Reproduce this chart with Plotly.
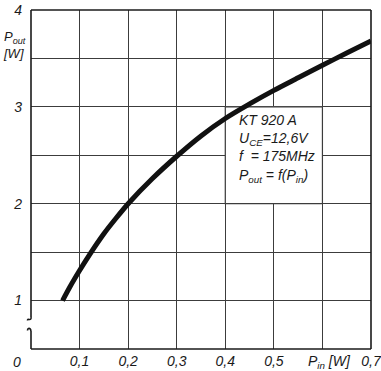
import plotly.graph_objects as go

# Data (Pin in W, Pout in W)
p_in = [0.065, 0.08, 0.10, 0.12, 0.15, 0.175, 0.20, 0.25, 0.30, 0.35, 0.40, 0.45, 0.50, 0.55, 0.60, 0.65, 0.70]
p_out = [1.00, 1.14, 1.31, 1.47, 1.69, 1.85, 2.00, 2.26, 2.49, 2.70, 2.88, 3.03, 3.17, 3.30, 3.43, 3.555, 3.68]

x_gridvals = [0.1, 0.2, 0.3, 0.4, 0.5, 0.6, 0.7]
x_ticktext = ["0,1", "0,2", "0,3", "0,4", "0,5", "", "0,7"]
y_gridvals = [1, 1.5, 2, 2.5, 3, 3.5, 4]
y_ticktext = ["1", "", "2", "", "3", "", "4"]

# the y axis is broken: value 0 is drawn one grid cell below 1
Y_ZERO_POS = 0.5
Y_TOP = 4.0
X_MAX = 0.7

INK = "#1a1a1a"
GRID = "#3c3c3c"
FONT = dict(family="Liberation Sans", size=14, color=INK, style="italic")

W, H = 381, 371
ML, MR, MT, MB = 31, 10, 10, 22
PW, PH = W - ML - MR, H - MT - MB


def dxp(px):
    return px / PW


def dyp(px):
    return px / PH


fig = go.Figure()
fig.add_trace(go.Scatter(x=p_in, y=p_out, mode="lines",
                         line=dict(color="#111111", width=5, shape="spline", smoothing=0.8),
                         hoverinfo="skip", showlegend=False))

frame = dict(color=INK, width=1.6)
shapes = []
# info box (covers inner grid lines)
shapes.append(dict(type="rect", xref="x", yref="y", x0=0.4, x1=0.6, y0=2.0, y1=3.0,
                   fillcolor="white", line=dict(color=GRID, width=1.2), layer="between"))
# frame: top, right, bottom
shapes.append(dict(type="line", xref="paper", yref="paper", x0=0, x1=1, y0=1, y1=1, line=frame))
shapes.append(dict(type="line", xref="paper", yref="paper", x0=1, x1=1, y0=0, y1=1, line=frame))
shapes.append(dict(type="line", xref="paper", yref="paper", x0=0, x1=1, y0=0, y1=0, line=frame))
# left axis with break marks
b_top = dyp(349 - 317)
b_bot = dyp(349 - 331)
shapes.append(dict(type="line", xref="paper", yref="paper", x0=0, x1=0, y0=b_top, y1=1, line=frame))
shapes.append(dict(type="line", xref="paper", yref="paper", x0=0, x1=0, y0=0, y1=b_bot, line=frame))
shapes.append(dict(type="path", xref="paper", yref="paper",
                   path=(f"M 0,{b_top} Q {dxp(0.5)},{b_top - dyp(3)} {dxp(-2)},{b_top - dyp(2.5)} "
                         f"Q {dxp(-3.5)},{b_top - dyp(2)} {dxp(-3.5)},{b_top - dyp(3.5)}"),
                   line=frame))
shapes.append(dict(type="path", xref="paper", yref="paper",
                   path=(f"M 0,{b_bot} Q {dxp(-0.5)},{b_bot + dyp(3)} {dxp(-2.5)},{b_bot + dyp(2.5)} "
                         f"Q {dxp(-3.5)},{b_bot + dyp(2)} {dxp(-3.5)},{b_bot + dyp(0.5)}"),
                   line=frame))

annotations = [
    dict(text="KT 920 A<br>U<sub>CE</sub>=12,6V<br>f  = 175MHz<br>P<sub>out</sub> = f(P<sub>in</sub>)",
         xref="x", yref="y", x=0.424, y=2.97, xanchor="left", yanchor="top",
         align="left", showarrow=False,
         font=dict(family="Liberation Sans", size=14, color=INK, style="italic")),
    dict(text="P<sub>out</sub><br>[W]", xref="paper", yref="y", x=-0.008, y=3.64,
         xanchor="right", yanchor="middle", align="left", showarrow=False,
         font=dict(family="Liberation Sans", size=13, color=INK, style="italic")),
    dict(text="0", xref="paper", yref="paper", x=-0.024, y=0, xanchor="right",
         yanchor="top", yshift=-3, showarrow=False, font=FONT),
    dict(text="P<sub>in</sub> [W]", xref="x", yref="paper", x=0.615, y=0,
         xanchor="center", yanchor="top", yshift=-2, showarrow=False, font=FONT),
]

fig.update_layout(
    width=W, height=H,
    margin=dict(l=ML, r=MR, t=MT, b=MB, autoexpand=False),
    paper_bgcolor="white", plot_bgcolor="white",
    shapes=shapes, annotations=annotations,
    xaxis=dict(range=[0, X_MAX], tickvals=x_gridvals, ticktext=x_ticktext,
               showgrid=True, gridcolor=GRID, gridwidth=1.2, zeroline=False,
               showline=False, ticks="", tickfont=FONT, ticklabelstandoff=2,
               ticklabeloverflow="allow", automargin=False, fixedrange=True),
    yaxis=dict(range=[Y_ZERO_POS, Y_TOP], tickvals=y_gridvals, ticktext=y_ticktext,
               showgrid=True, gridcolor=GRID, gridwidth=1.2, zeroline=False,
               showline=False, ticks="", tickfont=FONT, ticklabelstandoff=8,
               ticklabeloverflow="allow", automargin=False, fixedrange=True),
)

fig.write_html("out.html")
